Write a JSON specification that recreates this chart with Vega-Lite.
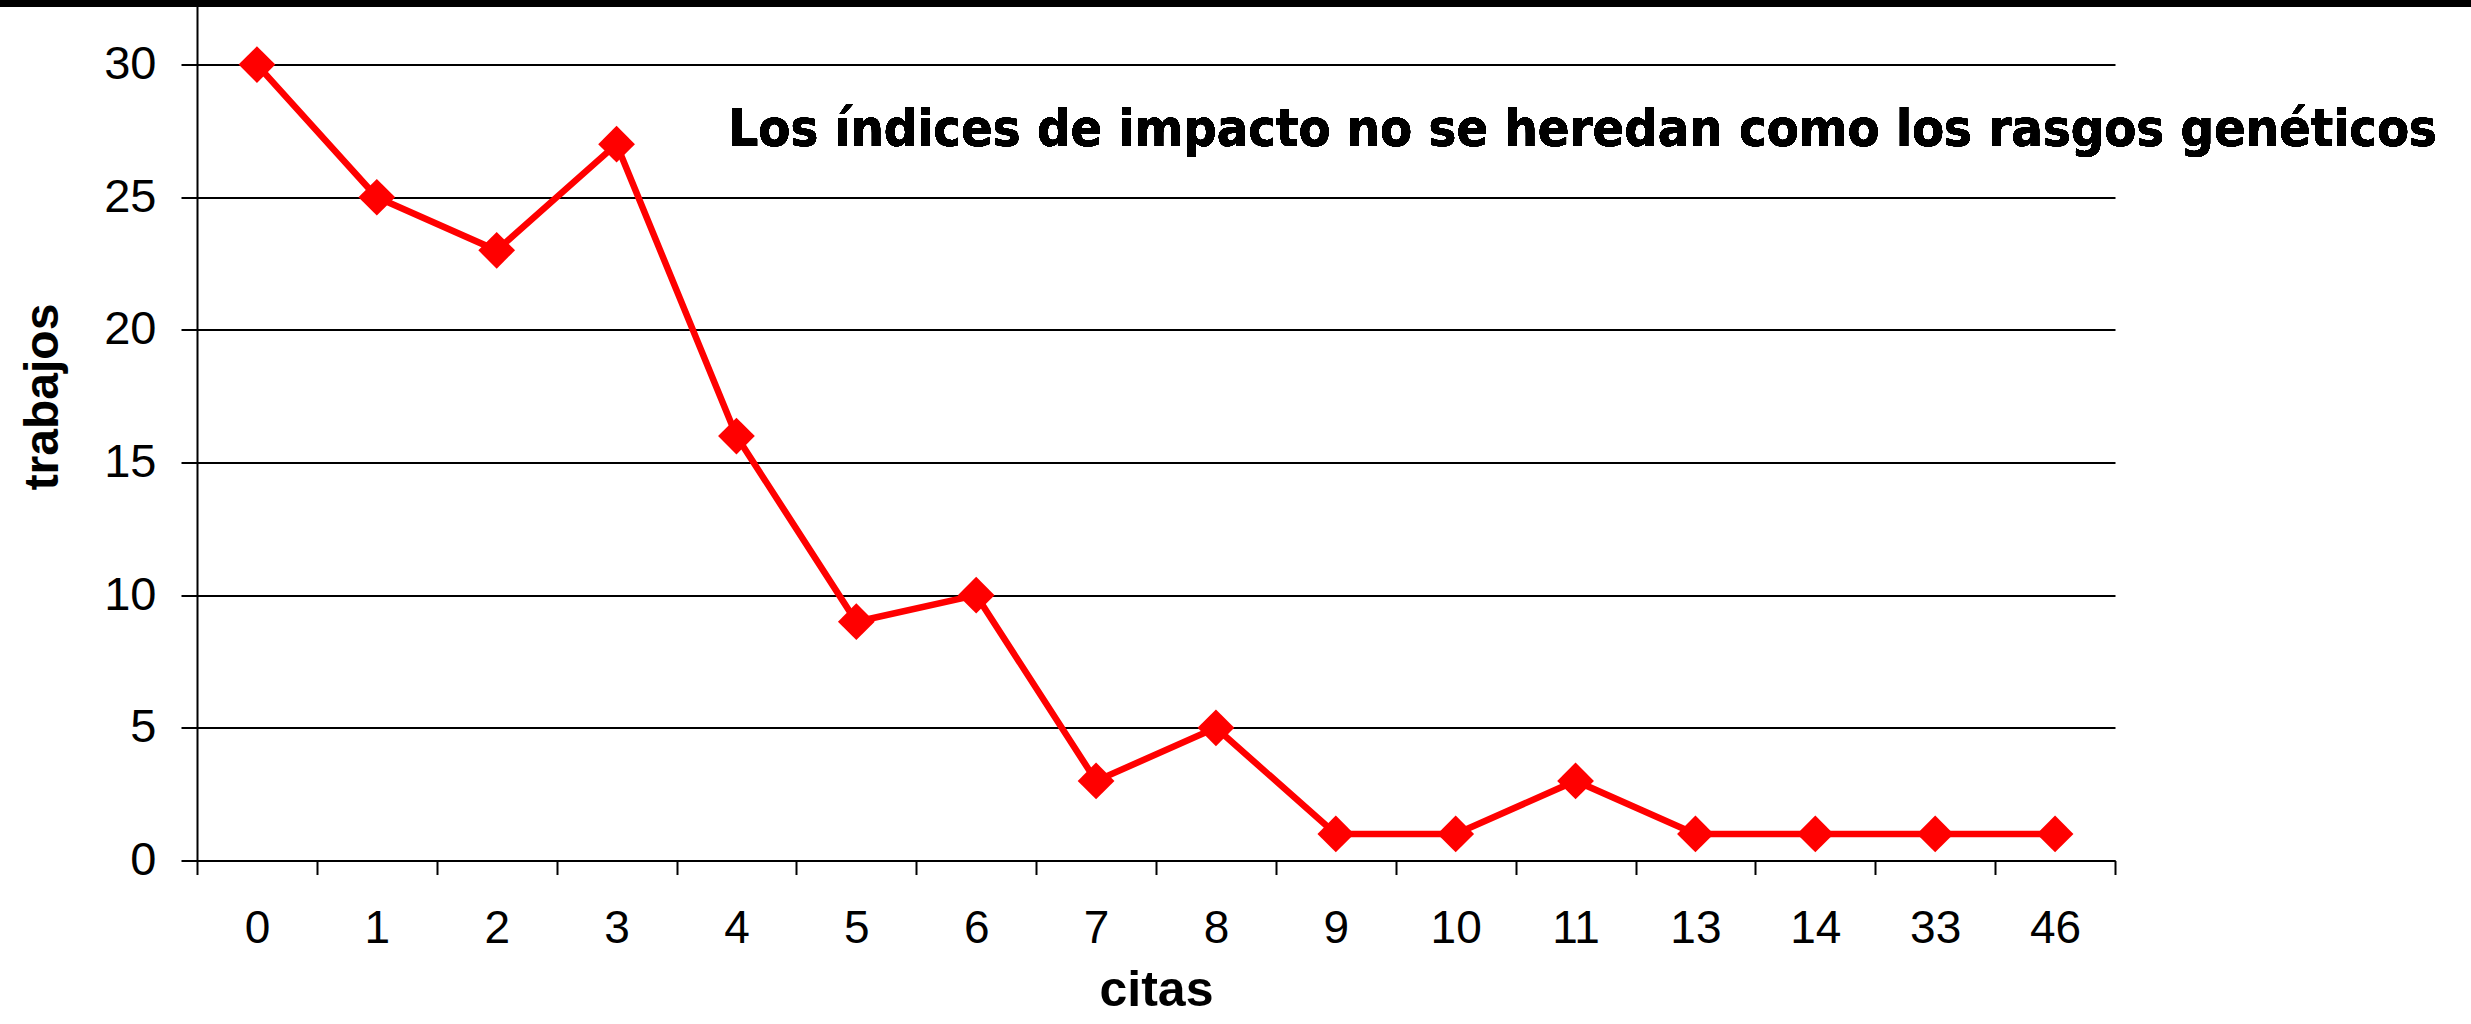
{
  "$schema": "https://vega.github.io/schema/vega-lite/v6.json",
  "autosize": {"type": "none"},
  "width": 1918,
  "height": 854,
  "padding": {"left": 197, "top": 6.5, "right": 356, "bottom": 163.5},
  "background": "white",
  "config": {"view": {"stroke": null}},
  "data": {"values": [
    {"citas": "0", "trabajos": 30},
    {"citas": "1", "trabajos": 25},
    {"citas": "2", "trabajos": 23},
    {"citas": "3", "trabajos": 27},
    {"citas": "4", "trabajos": 16},
    {"citas": "5", "trabajos": 9},
    {"citas": "6", "trabajos": 10},
    {"citas": "7", "trabajos": 3},
    {"citas": "8", "trabajos": 5},
    {"citas": "9", "trabajos": 1},
    {"citas": "10", "trabajos": 1},
    {"citas": "11", "trabajos": 3},
    {"citas": "13", "trabajos": 1},
    {"citas": "14", "trabajos": 1},
    {"citas": "33", "trabajos": 1},
    {"citas": "46", "trabajos": 1}
  ]},
  "resolve": {"scale": {"x": "independent"}, "axis": {"x": "independent"}},
  "layer": [
    {
      "layer": [
        {
          "mark": {"type": "line", "color": "#FF0000", "strokeWidth": 6.5},
          "encoding": {
            "x": {
              "field": "citas", "type": "ordinal", "sort": null,
              "scale": {"type": "band", "paddingInner": 0, "paddingOuter": 0},
              "axis": {
                "title": "citas",
                "labelAngle": 0,
                "tickBand": "extent",
                "tickSize": 14, "tickWidth": 2, "tickColor": "black",
                "domainColor": "black", "domainWidth": 2,
                "grid": false,
                "labelFont": "Liberation Sans", "labelFontSize": 46, "labelColor": "black",
                "labelPadding": 32,
                "titleFont": "Liberation Sans", "titleFontSize": 50, "titleFontWeight": "bold", "titleColor": "black",
                "titlePadding": 14
              }
            },
            "y": {
              "field": "trabajos", "type": "quantitative",
              "scale": {"domain": [0, 32.19], "nice": false, "zero": true},
              "axis": {
                "title": "trabajos",
                "values": [0, 5, 10, 15, 20, 25, 30],
                "grid": true, "gridColor": "black", "gridWidth": 2, "gridOpacity": 1,
                "tickSize": 16, "tickWidth": 2, "tickColor": "black",
                "domainColor": "black", "domainWidth": 2,
                "labelFont": "Liberation Sans", "labelFontSize": 47, "labelColor": "black",
                "labelPadding": 25,
                "titleFont": "Liberation Sans", "titleFontSize": 48, "titleFontWeight": "bold", "titleColor": "black",
                "titlePadding": 36,
                "titleY": 390
              }
            }
          }
        },
        {
          "mark": {"type": "point", "shape": "diamond", "filled": true, "color": "#FF0000", "opacity": 1, "size": 1350},
          "encoding": {
            "x": {"field": "citas", "type": "ordinal", "sort": null},
            "y": {"field": "trabajos", "type": "quantitative"}
          }
        },
        {
          "mark": {"type": "text", "text": "Los índices de impacto no se heredan como los rasgos genéticos", "font": "DejaVu Sans Condensed", "fontWeight": "bold", "fontSize": 52, "align": "left", "baseline": "alphabetic", "color": "black", "dx": -8},
          "encoding": {
            "x": {"datum": "4", "type": "ordinal"},
            "y": {"datum": 26.94, "type": "quantitative"}
          }
        }
      ]
    },
    {
      "mark": {"type": "rect", "color": "black", "opacity": 1},
      "encoding": {
        "x": {"datum": -0.103, "type": "quantitative", "scale": {"domain": [0, 1], "nice": false, "zero": false}, "axis": null},
        "x2": {"datum": 1.19},
        "y": {"datum": 32.17, "type": "quantitative"},
        "y2": {"datum": 32.6}
      }
    }
  ]
}
